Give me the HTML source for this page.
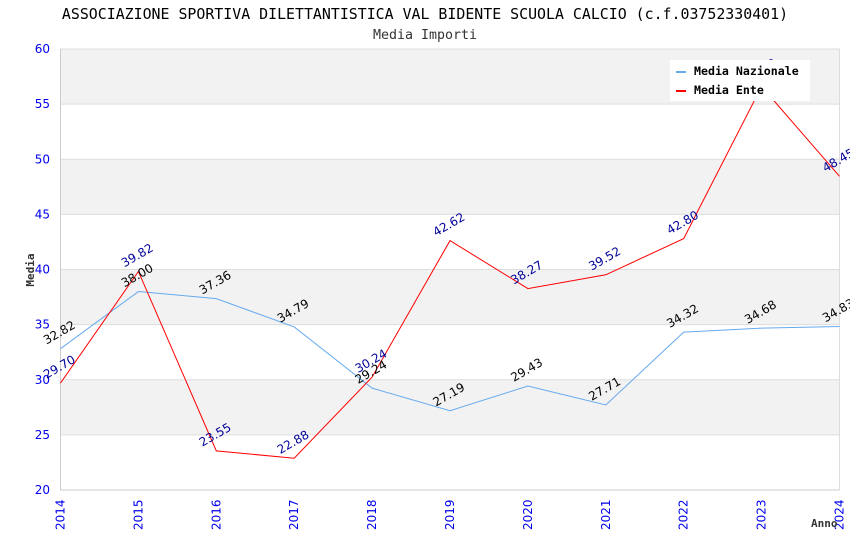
<!DOCTYPE html>
<html><head><meta charset="utf-8"><style>
body{margin:0;background:#fff}
svg{display:block;font-family:"DejaVu Sans Mono","Liberation Mono",monospace}
</style></head><body>
<svg id="c" width="850" height="550">
<text x="425" y="19" text-anchor="middle" font-size="14.9" fill="#000">ASSOCIAZIONE SPORTIVA DILETTANTISTICA VAL BIDENTE SCUOLA CALCIO (c.f.03752330401)</text>
<text x="425" y="39" text-anchor="middle" font-size="13.3" fill="#333">Media Importi</text>
<g id="bands"></g><g id="grid"></g><g id="axes"></g><g id="series"></g><g id="labels"></g>
<text transform="translate(34,270) rotate(-90)" text-anchor="middle" font-size="11" font-weight="bold" fill="#333">Media</text>
<text x="811" y="527" font-size="11" font-weight="bold" fill="#333">Anno</text>
<g>
<rect x="670" y="60" width="140" height="41" fill="#fff"/>
<line x1="676" y1="72" x2="686" y2="72" stroke="#66aaee" stroke-width="2"/>
<text x="694" y="75" font-size="11.6" font-weight="bold">Media Nazionale</text>
<line x1="676" y1="91" x2="686" y2="91" stroke="#ff0000" stroke-width="2"/>
<text x="694" y="94" font-size="11.6" font-weight="bold">Media Ente</text>
</g>
</svg>
<script>
const years=[2014,2015,2016,2017,2018,2019,2020,2021,2022,2023,2024];
const nazionale=[32.82,38.00,37.36,34.79,29.24,27.19,29.43,27.71,34.32,34.68,34.83];
const ente=[29.70,39.82,23.55,22.88,30.24,42.62,38.27,39.52,42.80,56.60,48.45];
const yTicks=[20,25,30,35,40,45,50,55,60];
const L=60.5,R=839.5,T=49,B=490,ymin=20,ymax=60;
const xs=i=>L+(R-L)*i/(years.length-1);
const ys=v=>B-(B-T)*(v-ymin)/(ymax-ymin);
const NS="http://www.w3.org/2000/svg";
const SANS='"DejaVu Sans","Liberation Sans",sans-serif';
function mk(tag,attrs,parent,txt){const e=document.createElementNS(NS,tag);for(const k in attrs)e.setAttribute(k,attrs[k]);if(txt!==undefined)e.textContent=txt;document.getElementById(parent).appendChild(e);return e;}
for(let k=0;k<yTicks.length-1;k++){
 if(k%2===1){const r=mk('rect',{x:L,y:ys(yTicks[k+1]),width:R-L,height:ys(yTicks[k])-ys(yTicks[k+1]),fill:'#f2f2f2'},'bands');
 
 }
}
yTicks.forEach(t=>{
 const l=mk('line',{x1:L,x2:R,y1:ys(t),y2:ys(t),stroke:'#dddddd'},'grid');
 
 
 const tx=mk('text',{x:50,y:ys(t)+4,'text-anchor':'end','font-size':12,fill:'#0000ee','font-family':SANS},'axes',String(t));
 
 
});
mk('line',{x1:L,x2:L,y1:T,y2:B,stroke:'#ccc'},'axes');
mk('line',{x1:R,x2:R,y1:T,y2:B,stroke:'#ddd'},'axes');
mk('line',{x1:L,x2:R,y1:B,y2:B,stroke:'#ccc'},'axes');
years.forEach((y,i)=>{
 const tx=mk('text',{transform:`translate(${xs(i)+4},${B+40}) rotate(-90)`,'font-size':12,fill:'#0000ee','font-family':SANS},'axes',String(y));
 
 
});
function series(arr,color,lblColor,name){
 const p=mk('polyline',{points:arr.map((v,i)=>xs(i)+','+ys(v)).join(' '),fill:'none',stroke:color,'stroke-width':1},'series');
 
 
 arr.forEach((v,i)=>{
  const t=mk('text',{transform:`translate(${xs(i)-14},${ys(v)-4}) rotate(-30)`,'font-size':12,fill:lblColor,'font-family':SANS},'labels',v.toFixed(2));
  
  
 });
}
series(nazionale,'#66aaee','#000','line-nazionale');
series(ente,'#ff0000','#000099','line-ente');
</script>
</body></html>
